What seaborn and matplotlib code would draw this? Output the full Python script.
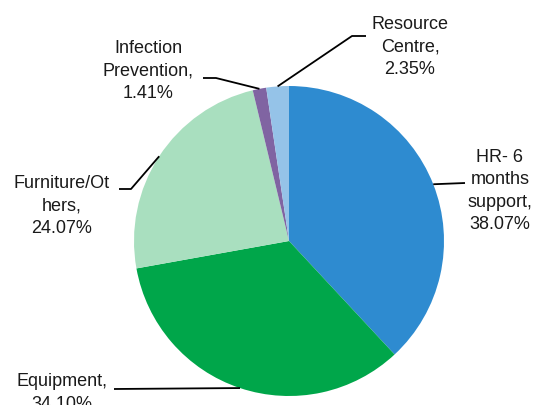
import numpy as np
import matplotlib
matplotlib.use("Agg")
import matplotlib.pyplot as plt
import seaborn as sns

# Budget shares by category
categories = ["HR- 6\nmonths\nsupport", "Equipment", "Furniture/Ot\nhers",
              "Infection\nPrevention", "Resource\nCentre"]
shares = [38.07, 34.10, 24.07, 1.41, 2.35]
colors = ["#2E8BD0", "#00A64A", "#A9DFBF", "#8064A2", "#95C3E8"]

sns.set_theme(style="white")
plt.rcParams["font.family"] = ["Liberation Sans", "DejaVu Sans"]

W, H = 534, 406
CX, CY, R = 289, 242, 155  # pie centre and radius, pixels


def px(x, y):
    """Pixel position (origin top-left) -> data units around the pie centre."""
    return (x - CX) / R, (CY - y) / R


fig = plt.figure(figsize=(W / 100, H / 100), dpi=100)
ax = fig.add_axes([0, 0, 1, 1])
wedges, _ = ax.pie(shares, colors=colors, startangle=90, counterclock=False,
                   radius=1.0, wedgeprops=dict(linewidth=0))
ax.set_xlim(-CX / R, (W - CX) / R)
ax.set_ylim((CY - H) / R, CY / R)
ax.set_aspect("auto")
ax.axis("off")

# label layout: text centre, elbow, line end (pixels)
layout = [
    dict(text=(500, 191), elbow=(465, 184), end=(465, 184)),
    dict(text=(62, 393), elbow=(114, 390), end=(114, 390)),
    dict(text=(62, 206), elbow=(131, 190), end=(119, 190)),
    dict(text=(148, 71), elbow=(216, 79), end=(203, 79)),
    dict(text=(410, 47), elbow=(352, 37), end=(366, 37)),
]

for w, name, val, lay in zip(wedges, categories, shares, layout):
    mid = np.deg2rad((w.theta1 + w.theta2) / 2)
    ax0, ay0 = np.cos(mid), np.sin(mid)
    ex, ey = px(*lay["elbow"])
    fx, fy = px(*lay["end"])
    ax.plot([ax0, ex, fx], [ay0, ey, fy], color="black", lw=1.3,
            solid_capstyle="butt", zorder=3)
    tx, ty = px(*lay["text"])
    ax.text(tx, ty, f"{name},\n{val:.2f}%", ha="center", va="center",
            fontsize=13, color="#1a1a1a", linespacing=1.4)

fig.savefig("out.png", dpi=100)
